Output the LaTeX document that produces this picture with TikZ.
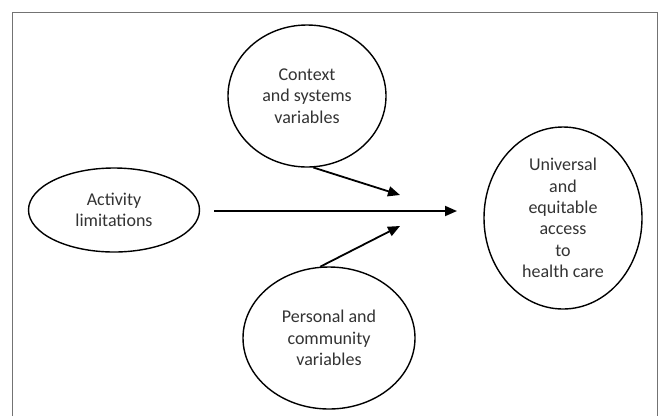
\documentclass[tikz,border=0pt]{standalone}
\usepackage{fontspec}
\setmainfont{Carlito}
\usetikzlibrary{shapes.geometric,arrows.meta}
\begin{document}
\begin{tikzpicture}[x=1pt,y=-1pt,
  bubble/.style={draw=black,line width=1.4pt,ellipse,inner sep=0pt,align=center,
    text=black!80,font=\fontsize{18}{21.3}\selectfont},
  conn/.style={line width=1.8pt,-{Triangle[length=12pt,width=10pt]}},
  frameline/.style={draw=black!55,line width=1pt}]
\useasboundingbox (0,0) rectangle (660,416);
\fill[white] (0,0) rectangle (660,416);
\draw[frameline] (12.5,416) -- (12.5,12.5) -- (657.5,12.5) -- (657.5,416);
\node[bubble,minimum width=171pt,minimum height=84pt] (act) at (114,210) {Activity\\limitations};
\node[bubble,minimum width=158pt,minimum height=142pt] (ctx) at (307,96) {Context\\and systems\\variables};
\node[bubble,minimum width=172pt,minimum height=142pt] (pers) at (329,338) {Personal and\\community\\variables};
\node[bubble,minimum width=158pt,minimum height=182pt] (uni) at (563,218) {Universal\\and\\equitable\\access\\to\\health care};
\coordinate (mainstart) at (214,211);
\coordinate (mainend) at (457,211);
\coordinate (ctxend) at (400,195);
\coordinate (persend) at (400,226);
\draw[conn] (mainstart) -- (mainend);
\draw[conn] (ctx.-85) -- (ctxend);
\draw[conn] (pers.97) -- (persend);
\end{tikzpicture}
\end{document}
